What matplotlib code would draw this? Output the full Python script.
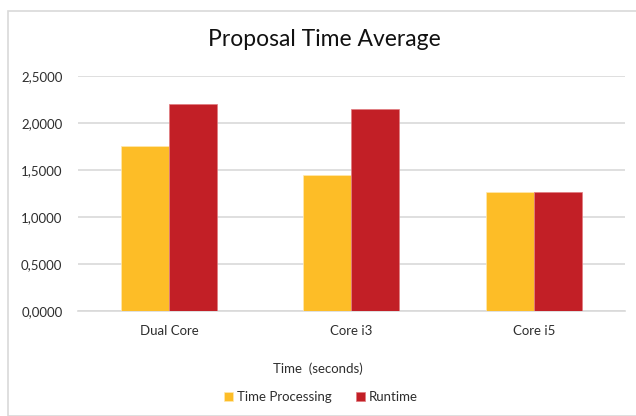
import matplotlib.pyplot as plt
import numpy as np
from matplotlib.patches import Rectangle
from matplotlib.ticker import FuncFormatter

plt.rcParams['font.family'] = ['Lato', 'DejaVu Sans']

categories = ['Dual Core', 'Core i3', 'Core i5']
time_processing = [1.755, 1.442, 1.267]
runtime = [2.205, 2.145, 1.267]
series_names = ['Time Processing', 'Runtime']
yticks = [0.0, 0.5, 1.0, 1.5, 2.0, 2.5]

YELLOW = '#FDBD27'
RED = '#C21F26'
GRID = '#D9D9D9'
TEXT = '#2e2e2e'

W, H = 636, 416
fig = plt.figure(figsize=(W / 100, H / 100), dpi=100)

# chart area border, like the Excel chart frame
fig.patches.append(Rectangle((7.5 / W, 0), 1.0, 1 - 11 / H, transform=fig.transFigure,
                             fill=False, edgecolor=GRID, linewidth=1.2))

left, right = 77.7 / W, 625 / W
top, bottom = 1 - 76 / H, 1 - 310.7 / H
ax = fig.add_axes([left, bottom, right - left, top - bottom])

x = np.arange(len(categories))
bw = 0.263
ax.bar(x - bw / 2, time_processing, bw, color=YELLOW, label=series_names[0],
       edgecolor='#FFE9B0', linewidth=0.5, zorder=3)
ax.bar(x + bw / 2, runtime, bw, color=RED, label=series_names[1],
       edgecolor='#E07A7E', linewidth=0.5, zorder=3)

ax.set_xlim(-0.5, len(categories) - 0.5)
ax.set_ylim(0, 2.5)
ax.set_yticks(yticks)
ax.yaxis.set_major_formatter(FuncFormatter(lambda v, p: f'{v:.4f}'.replace('.', ',')))
ax.set_xticks(x)
ax.set_xticklabels(categories)

ax.grid(axis='y', color=GRID, linewidth=1.2, zorder=0)
for s in ['top', 'right', 'left']:
    ax.spines[s].set_visible(False)
ax.spines['bottom'].set_color(GRID)
ax.spines['bottom'].set_linewidth(1.2)
ax.tick_params(axis='both', length=0, labelsize=9.5, labelcolor=TEXT)
ax.tick_params(axis='y', pad=11)
ax.tick_params(axis='x', pad=10)

fig.text(324 / W, 1 - 40 / H, 'Proposal Time Average', ha='center', va='center',
         fontsize=16.5, color='#111111')
fig.text(318 / W, 1 - 369 / H, 'Time  (seconds)', ha='center', va='center',
         fontsize=9.5, color=TEXT)

fig.legend(loc='center', bbox_to_anchor=(321 / W, 1 - 397 / H), ncol=2, frameon=False,
           fontsize=9.5, labelcolor=TEXT, handlelength=0.7, handleheight=0.7,
           handletextpad=0.3, columnspacing=1.8, borderaxespad=0)

fig.savefig('out.png', dpi=100)
